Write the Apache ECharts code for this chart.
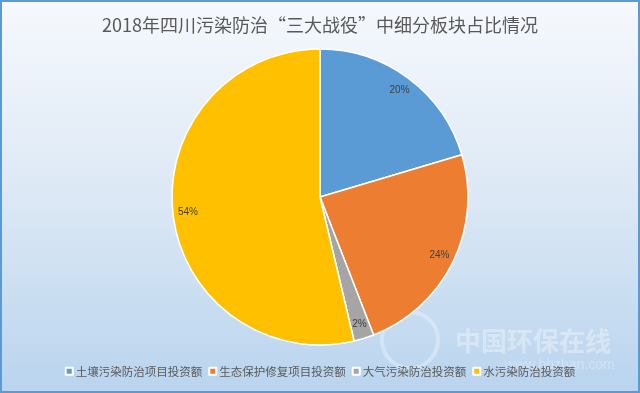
<!DOCTYPE html>
<html><head><meta charset="utf-8">
<script src="https://cdn.jsdelivr.net/npm/echarts@6/dist/echarts.min.js"></script>
<style>html,body{margin:0;padding:0;}#c{width:640px;height:393px;}</style>
</head><body><div id="c"></div>
<script>
const titleText = '2018年四川污染防治“三大战役”中细分板块占比情况';
const categories = ['土壤污染防治项目投资额','生态保护修复项目投资额','大气污染防治投资额','水污染防治投资额'];
const values = [20.4, 23.7, 2.2, 53.7];
const colors = ['#5b9bd5','#ed7d31','#a5a5a5','#ffc000'];

const chart = echarts.init(document.getElementById('c'));
const data = categories.map((n,i)=>({name:n, value:values[i]}));
const fontCJK = '"Noto Sans CJK SC","Noto Sans",sans-serif';
chart.setOption({
  animation:false,
  color: colors,
  graphic:[
    {type:'rect', z:-10, shape:{x:1,y:1,width:638,height:391},
     style:{fill:new echarts.graphic.LinearGradient(0,0,0,1,[{offset:0,color:'#f6f9fd'},{offset:0.5,color:'#dce8f5'},{offset:1,color:'#b9d4ee'}]),
            stroke:'#5b9bd5', lineWidth:2}},
    {type:'circle', z:-5, shape:{cx:410,cy:340,r:28}, style:{fill:'none',stroke:'rgba(255,255,255,0.3)',lineWidth:4}},
    {type:'text', z:-5, left:455, top:328, style:{text:'中国环保在线', fill:'rgba(255,255,255,0.35)', font:'bold 26px '+fontCJK}},
    {type:'text', z:-5, left:505, top:358, style:{text:'www.hbzhan.com', fill:'rgba(255,255,255,0.3)', font:'14px Arial'}}
  ],
  title:{text:titleText, left:'center', top:11,
    textStyle:{fontSize:18, fontWeight:'normal', color:'#595959', fontFamily:fontCJK}},
  legend:{bottom:11, left:'center', itemWidth:7, itemHeight:7, itemGap:6, icon:'rect',
    textStyle:{fontSize:11.5, color:'#595959', fontFamily:fontCJK, padding:[0,0,0,-2]},
    data:categories},
  series:[
    {type:'pie', radius:[0,148], center:[320,197], startAngle:90, clockwise:true,
     data:data, label:{show:false}, labelLine:{show:false},
     itemStyle:{borderColor:'#ffffff', borderWidth:1.5}, emphasis:{disabled:true}},
    {type:'pie', radius:[112,148], center:[320,197], startAngle:90, clockwise:true,
     data:data, silent:true, legendHoverLink:false,
     itemStyle:{color:'rgba(0,0,0,0)', borderWidth:0},
     label:{show:true, position:'inside', fontSize:10, color:'#404040', fontFamily:'"Liberation Sans",Arial,sans-serif',
       formatter:p=>Math.round(p.percent)+'%'},
     labelLine:{show:false}, emphasis:{disabled:true}}
  ]
});
</script></body></html>
